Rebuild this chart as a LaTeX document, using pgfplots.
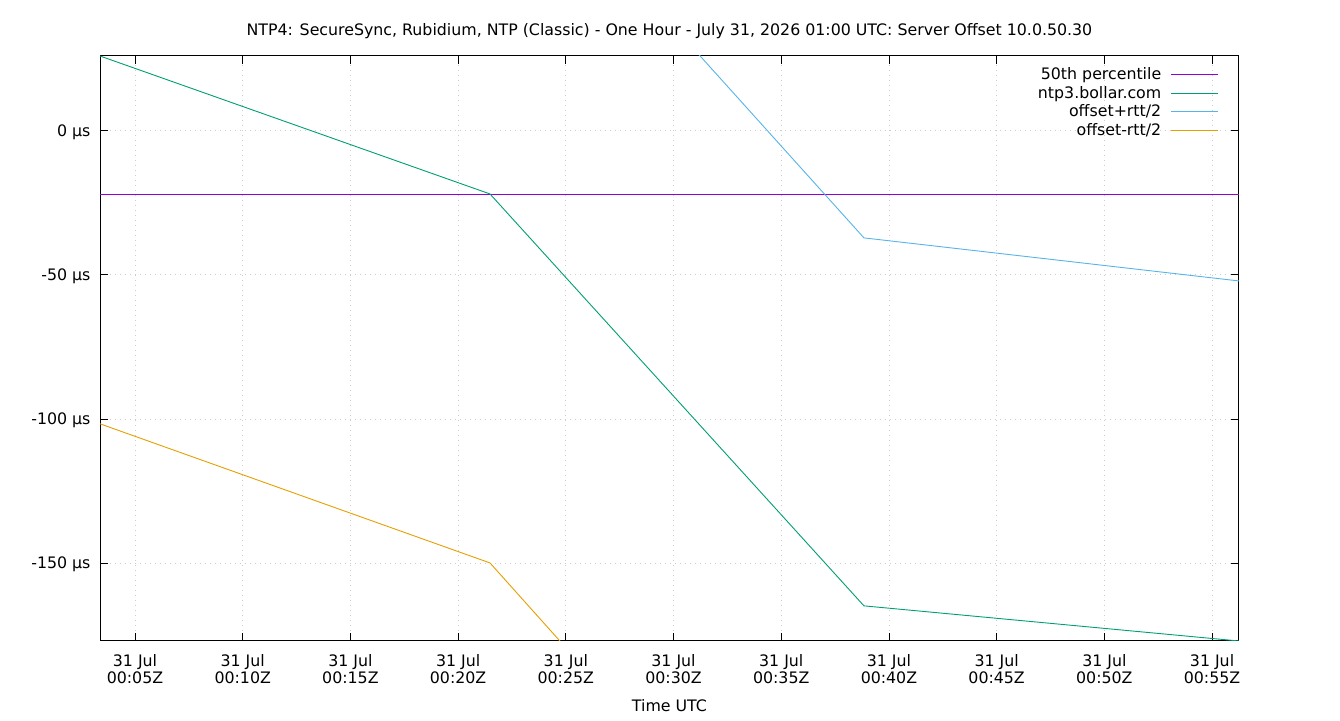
\documentclass[border=0pt]{standalone}
\usepackage{pgfplots}
\pgfplotsset{compat=1.18}
\usepackage{fontspec}
\setmainfont{DejaVu Sans}
\definecolor{gpPurple}{RGB}{148,0,211}
\definecolor{gpGreen}{RGB}{0,158,115}
\definecolor{gpBlue}{RGB}{86,180,233}
\definecolor{gpOrange}{RGB}{230,159,0}
\begin{document}
\begin{tikzpicture}[x=1pt,y=1pt]
\path[use as bounding box] (0,0) rectangle (1340,720);
\begin{axis}[
  at={(100pt,79pt)}, anchor=south west,
  scale only axis, width=1139pt, height=585pt,
  xmin=3.375, xmax=56.25, ymin=-177.1, ymax=26.0,
  font=\fontsize{15.8}{17}\selectfont,
  xtick={5,10,...,55},
  xticklabels={31 Jul\\00:05Z,31 Jul\\00:10Z,31 Jul\\00:15Z,31 Jul\\00:20Z,31 Jul\\00:25Z,31 Jul\\00:30Z,31 Jul\\00:35Z,31 Jul\\00:40Z,31 Jul\\00:45Z,31 Jul\\00:50Z,31 Jul\\00:55Z},
  xticklabel style={align=center, yshift=-10pt},
  ytick={-150,-100,-50,0},
  yticklabels={-150 µs,-100 µs,-50 µs,0 µs},
  yticklabel style={xshift=-6pt, yshift=-1pt},
  tick align=inside, major tick length=8pt,
  tick style={black, line width=0.8pt},
  axis line style={black, line width=1pt},
  grid=major,
  major grid style={gray!40, dash pattern=on 1pt off 4pt, line width=0.8pt},
  xlabel={Time UTC}, xlabel style={yshift=-9pt},
  title={NTP4: SecureSync, Rubidium, NTP (Classic) - One Hour - July 31, 2026 01:00 UTC: Server Offset 10.0.50.30},
  title style={yshift=8pt},
  legend plot pos=right,
  legend cell align=right,
  legend style={draw=none, fill=none, at={(0.985,0.987)}, anchor=north east,
    row sep=1pt, font=\fontsize{15.8}{17}\selectfont},
  legend image code/.code={\path[draw=none] (0pt,0pt) -- (5pt,0pt); \draw[#1] (8pt,0pt) -- (55pt,0pt);},
  every axis plot/.append style={line width=0.9pt},
]
\addplot[gpPurple] coordinates {(3.375,-21.9) (56.25,-21.9)};
\addlegendentry{50th percentile}
\addplot[gpGreen] coordinates {(3.375,26.0) (21.48,-21.9) (38.84,-164.9) (56.25,-177.1)};
\addlegendentry{ntp3.bollar.com}
\addplot[gpBlue] coordinates {(3.375,155.0) (21.48,107.0) (38.84,-37.15) (56.25,-52.1)};
\addlegendentry{offset+rtt/2}
\addplot[gpOrange] coordinates {(3.375,-101.7) (21.48,-150.0) (38.84,-295.0) (56.25,-307.0)};
\addlegendentry{offset-rtt/2}
\end{axis}
\end{tikzpicture}
\end{document}
